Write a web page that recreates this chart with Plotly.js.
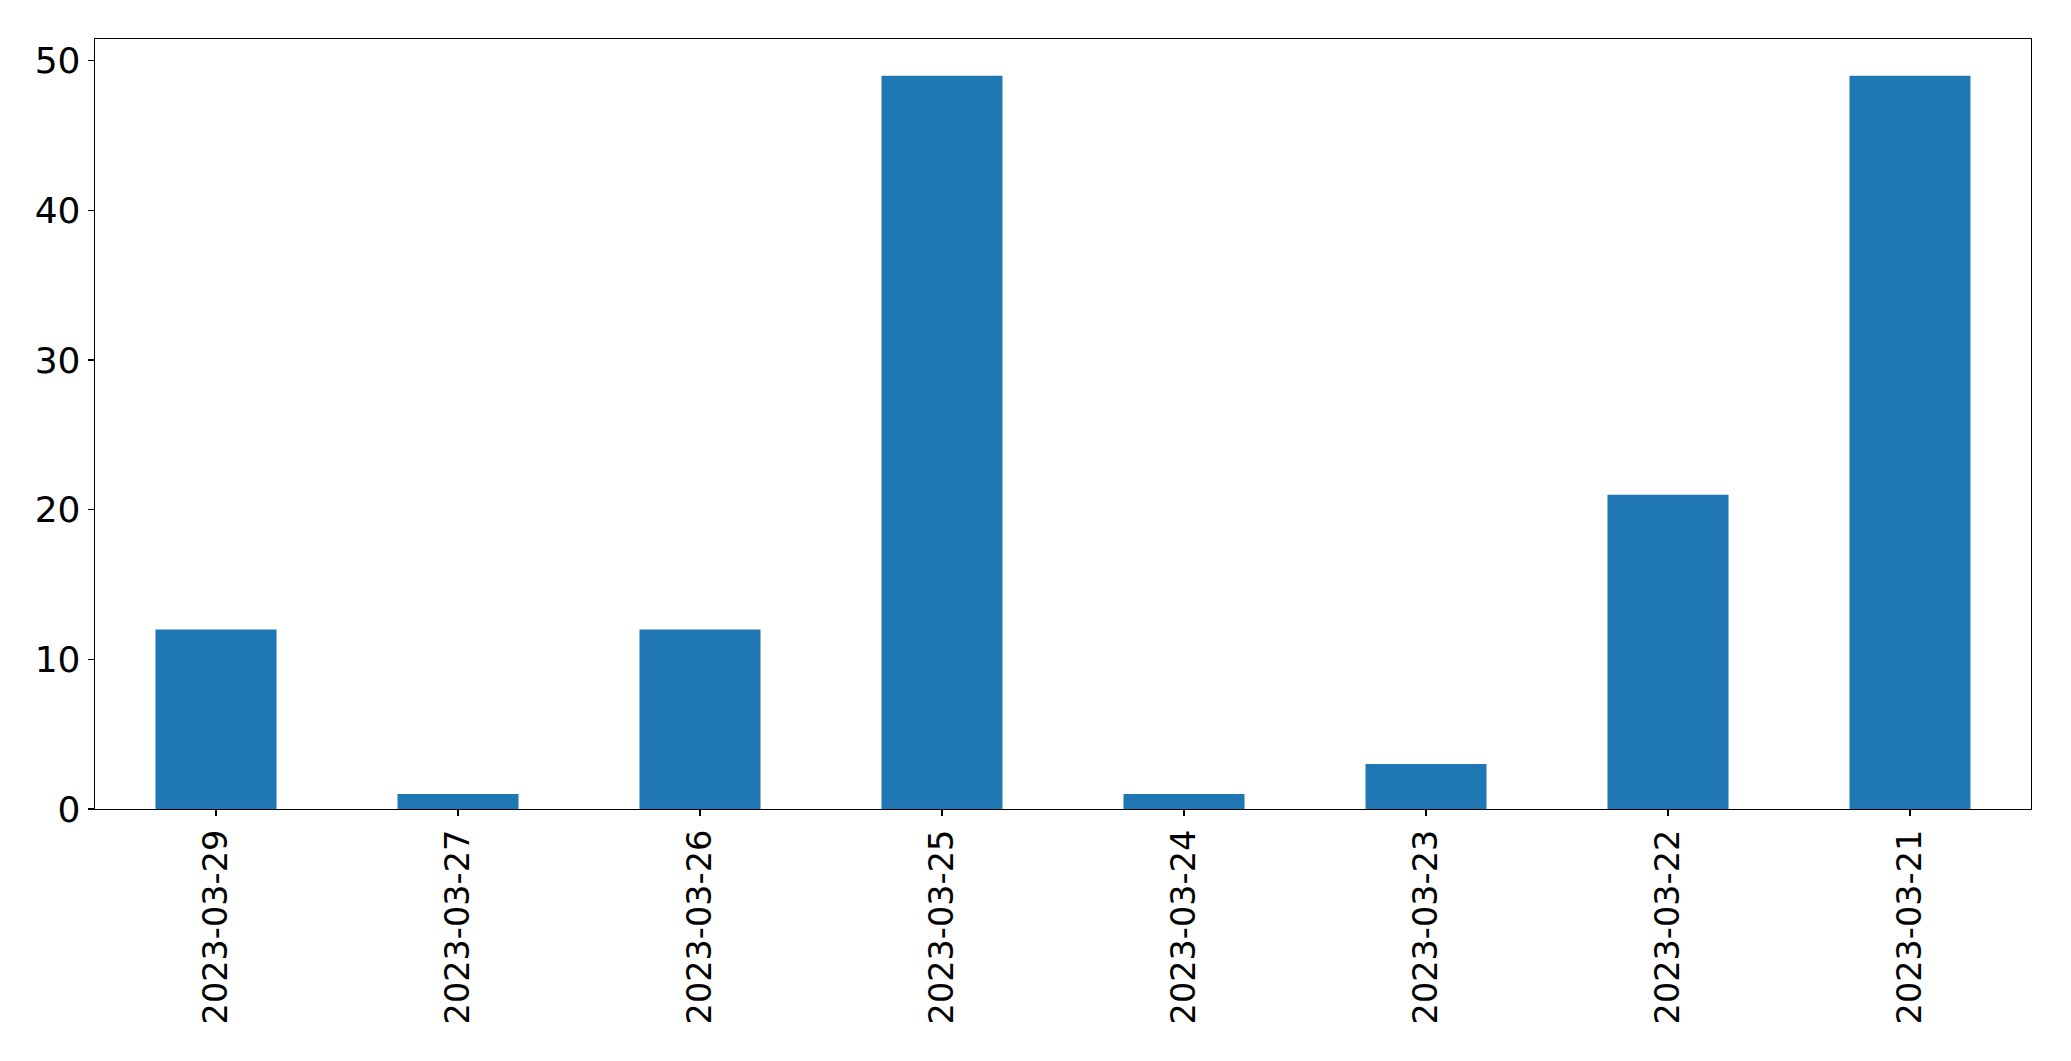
<!DOCTYPE html>
<html>
<head>
<meta charset="utf-8">
<script src="https://cdn.plot.ly/plotly-3.0.1.min.js"></script>
<style>html,body{margin:0;padding:0;background:#fff;}#chart{width:2071px;height:1061px;}</style>
</head>
<body>
<div id="chart"></div>
<script>
const dates = ["2023-03-29","2023-03-27","2023-03-26","2023-03-25","2023-03-24","2023-03-23","2023-03-22","2023-03-21"];
const counts = [12, 1, 12, 49, 1, 3, 21, 49];
const yTicks = [0, 10, 20, 30, 40, 50];

const trace = {
  type: 'bar',
  x: dates,
  y: counts,
  width: 0.5,
  marker: {color: '#1f77b4', line: {width: 0}},
  hoverinfo: 'x+y'
};

const xfont = {family: 'DejaVu Sans, sans-serif', size: 33.5, color: '#000'};
const yfont = {family: 'DejaVu Sans, sans-serif', size: 36, color: '#000'};
const layout = {
  width: 2071, height: 1061,
  margin: {l: 95, r: 40, t: 39, b: 252, pad: 0},
  paper_bgcolor: '#fff', plot_bgcolor: '#fff',
  showlegend: false,
  font: xfont,
  bargap: 0.5,
  xaxis: {
    type: 'category',
    range: [-0.5, dates.length - 0.5],
    tickangle: -90,
    ticks: 'outside', ticklen: 6, tickwidth: 1.3, tickcolor: '#000',
    showline: true, linecolor: '#000', linewidth: 1.3, mirror: true,
    showgrid: false, zeroline: false,
    tickfont: xfont
  },
  yaxis: {
    range: [0, 51.45],
    tickmode: 'array', tickvals: yTicks, ticktext: yTicks.map(String),
    ticks: 'outside', ticklen: 6, tickwidth: 1.3, tickcolor: '#000',
    showline: true, linecolor: '#000', linewidth: 1.3, mirror: true,
    showgrid: false, zeroline: false,
    tickfont: yfont
  }
};

Plotly.newPlot('chart', [trace], layout, {displayModeBar: false, staticPlot: true});
</script>
</body>
</html>
